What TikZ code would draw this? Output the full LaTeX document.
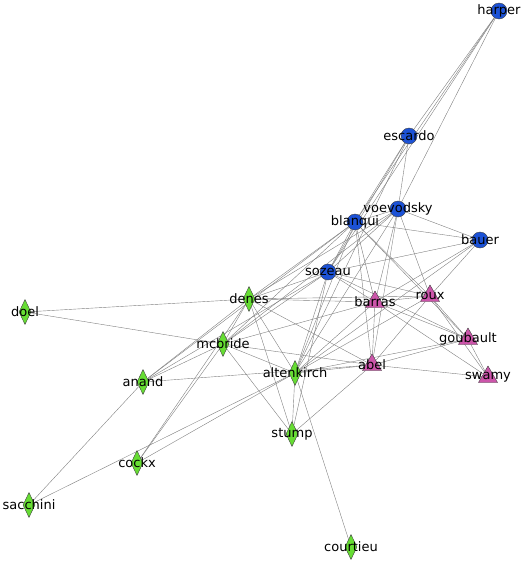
\documentclass[tikz,border=0pt]{standalone}
\usepackage{fontspec}
\setmainfont{DejaVu Sans}
\usepackage{tikz}
\usetikzlibrary{shapes.geometric,backgrounds}
\definecolor{blueN}{RGB}{28,82,214}
\definecolor{greenN}{RGB}{102,221,51}
\definecolor{pinkN}{RGB}{204,85,170}
\tikzset{
base/.style={
draw=black!75,
line width=0.4pt,
inner sep=0pt,
label={[font=\fontsize{13}{15}\selectfont,text=black]center:#1}
},
person/.style={
base=#1,
circle,
fill=blueN,
minimum size=16pt
},
member/.style={
base=#1,
diamond,
fill=greenN,
minimum width=12pt,
minimum height=25pt
},
guest/.style={
base=#1,
regular polygon,
regular polygon sides=3,
fill=pinkN,
minimum size=22pt
},
link/.style={
draw=black!50,
line width=0.4pt
}
}

\begin{document}
\begin{tikzpicture}[x=1pt,y=-1pt]
\useasboundingbox (0,0) rectangle (530,565);
% blue
\node[person=harper](harper) at (499,11){};
\node[person=escardo](escardo) at (409,136){};
\node[person=voevodsky](voevodsky) at (398,209){};
\node[person=blanqui](blanqui) at (355,222){};
\node[person=bauer](bauer) at (480,240){};
\node[person=sozeau](sozeau) at (328,272){};
% pink
\node[guest=barras](barras) at (375,302){};
\node[guest=roux](roux) at (430,296){};
\node[guest=goubault](goubault) at (468,339){};
\node[guest=abel](abel) at (372,365){};
\node[guest=swamy](swamy) at (488,377){};
% green
\node[member=denes](denes) at (249,299){};
\node[member=doel](doel) at (25,312){};
\node[member=mcbride](mcbride) at (223,344){};
\node[member=anand](anand) at (143,382){};
\node[member=altenkirch](altenkirch) at (295,373){};
\node[member=stump](stump) at (292,434){};
\node[member=cockx](cockx) at (137,463){};
\node[member=sacchini](sacchini) at (29,505){};
\node[member=courtieu](courtieu) at (351,547){};

\begin{scope}[on background layer]
\foreach \x/\y in {harper/escardo,harper/voevodsky,harper/blanqui,harper/sozeau,
escardo/blanqui,escardo/sozeau,escardo/voevodsky,escardo/altenkirch,
voevodsky/blanqui,voevodsky/bauer,voevodsky/sozeau,voevodsky/barras,voevodsky/roux,
voevodsky/abel,voevodsky/altenkirch,voevodsky/denes,voevodsky/mcbride,
blanqui/bauer,blanqui/sozeau,blanqui/barras,blanqui/roux,blanqui/goubault,
blanqui/denes,blanqui/mcbride,blanqui/altenkirch,blanqui/abel,blanqui/anand,
bauer/roux,bauer/barras,bauer/sozeau,bauer/altenkirch,
sozeau/denes,sozeau/barras,sozeau/roux,sozeau/goubault,sozeau/altenkirch,
sozeau/mcbride,sozeau/anand,sozeau/stump,
denes/doel,denes/barras,denes/roux,denes/mcbride,denes/altenkirch,denes/abel,
denes/stump,denes/cockx,denes/anand,
barras/roux,barras/goubault,barras/swamy,barras/abel,barras/altenkirch,barras/mcbride,
roux/goubault,roux/swamy,roux/altenkirch,roux/abel,
doel/mcbride,
mcbride/abel,mcbride/altenkirch,mcbride/anand,mcbride/stump,mcbride/cockx,
goubault/swamy,goubault/abel,goubault/altenkirch,
abel/altenkirch,abel/swamy,abel/stump,abel/anand,
altenkirch/stump,altenkirch/cockx,altenkirch/sacchini,altenkirch/courtieu,
anand/sacchini}
\draw[link](\x)--(\y);
\end{scope}
\end{tikzpicture}
\end{document}
